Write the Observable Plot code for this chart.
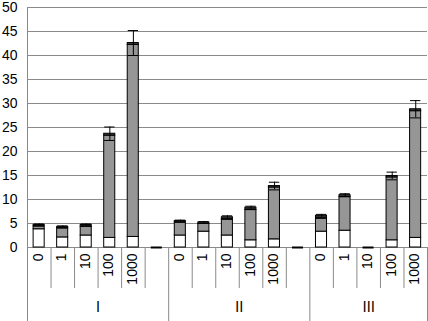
<!DOCTYPE html>
<html>
<head>
<meta charset="utf-8">
<script src="https://cdn.jsdelivr.net/npm/d3@7"></script>
<script src="https://cdn.jsdelivr.net/npm/@observablehq/plot@0.6"></script>
<style>
  html, body { margin: 0; padding: 0; background: white; }
</style>
</head>
<body>
<div id="chart"></div>
<script>
// ---- data ----
const groups = ["Ⅰ", "Ⅱ", "Ⅲ"];
const groupSizes = [6, 6, 5];
const doses = ["0","1","10","100","1000","", "0","1","10","100","1000","", "0","1","10","100","1000"];
const whiteSeg = [3.8, 2.1, 2.5, 2.0, 2.2, 0,   2.5, 3.3, 2.5, 1.5, 1.7, 0,   3.3, 3.5, 0, 1.5, 2.0];
const graySeg  = [0.6, 1.9, 1.8, 21.3, 40.0, 0, 2.7, 1.6, 3.3, 6.3, 10.8, 0,  2.7, 7.0, 0, 13.1, 26.4];
const darkSeg  = [0.3, 0.3, 0.4, 0.4, 0.4, 0,   0.3, 0.3, 0.5, 0.5, 0.3, 0,   0.6, 0.4, 0, 0.3, 0.4];
const errors   = [0.2, 0.2, 0.2, 1.4, 2.6, 0,   0.2, 0.2, 0.3, 0.3, 0.8, 0,   0.3, 0.3, 0, 0.8, 1.8];
const yTicks = [0, 5, 10, 15, 20, 25, 30, 35, 40, 45, 50];

// ---- layout ----
const W = 428, H = 321;
const mL = 27, mR = 1, mT = 7, mB = 74;
const plotH = H - mT - mB;
const nSlots = doses.length;
const barL = 0.26, barR = 0.73, capHalf = 0.22;
const segColors = ["white", "#969696", "#3a3a3a"];
const lineColor = "#8a8a8a";

// ---- tables ----
const slots = doses.map((d, i) => ({i, dose: d, total: whiteSeg[i] + graySeg[i] + darkSeg[i], err: errors[i]}));
const rects = [];
slots.forEach(s => {
  const segs = [whiteSeg[s.i], graySeg[s.i], darkSeg[s.i]];
  let base = 0;
  segs.forEach((v, k) => {
    if (v > 0) rects.push({x1: s.i + barL, x2: s.i + barR, y1: base, y2: base + v, fill: segColors[k]});
    base += v;
  });
});
const zeroSlots = slots.filter(s => s.total === 0);
const errSlots = slots.filter(s => s.total > 0 && s.err > 0);

const groupBounds = [0];
groupSizes.forEach(n => groupBounds.push(groupBounds[groupBounds.length - 1] + n));
const innerBounds = d3.range(1, nSlots).filter(b => !groupBounds.includes(b));
const groupCenters = groups.map((g, k) => ({g, x: (groupBounds[k] + groupBounds[k + 1]) / 2}));

const chart = Plot.plot({
  width: W, height: H,
  marginLeft: mL, marginRight: mR, marginTop: mT, marginBottom: mB,
  style: {fontFamily: "'Liberation Sans', Arial, sans-serif", fontSize: "14px", background: "white", color: "black"},
  x: {domain: [0, nSlots], axis: null},
  y: {domain: [0, 50], axis: null},
  marks: [
    Plot.ruleY(yTicks, {stroke: lineColor, strokeWidth: 1}),
    Plot.rect(rects, {x1: "x1", x2: "x2", y1: "y1", y2: "y2", fill: "fill", stroke: "black", strokeWidth: 1}),
    Plot.ruleY(zeroSlots, {y: 0, x1: d => d.i + barL, x2: d => d.i + barR, stroke: "black", strokeWidth: 2}),
    Plot.ruleX(errSlots, {x: d => d.i + 0.5, y1: d => d.total - d.err, y2: d => d.total + d.err, stroke: "black"}),
    Plot.ruleY(errSlots, {y: d => d.total + d.err, x1: d => d.i + 0.5 - capHalf, x2: d => d.i + 0.5 + capHalf, stroke: "black"}),
    Plot.ruleY(errSlots, {y: d => d.total - d.err, x1: d => d.i + 0.5 - capHalf, x2: d => d.i + 0.5 + capHalf, stroke: "black"}),
    // left axis (full height, extends to bottom)
    Plot.ruleX([0], {x: d => d, insetBottom: -mB, stroke: lineColor}),
    // group separators below axis
    Plot.ruleX(groupBounds.slice(1), {x: d => d, insetTop: plotH, insetBottom: -mB, stroke: lineColor}),
    // category separators below axis
    Plot.ruleX(innerBounds, {x: d => d, insetTop: plotH, insetBottom: -41, stroke: lineColor}),
    Plot.axisY({ticks: yTicks, tickSize: 0, tickPadding: 10, label: null, fill: "black"}),
    Plot.text(slots.filter(s => s.dose !== ""), {x: d => d.i + 0.5, y: 0, text: "dose", rotate: -90, textAnchor: "end", lineAnchor: "middle", dy: 6, dx: -1, fill: "black"}),
    Plot.text(groupCenters, {x: "x", y: 0, text: "g", dy: 60, fill: "black", fontFamily: "'Noto Sans CJK JP', sans-serif", fontSize: 14})
  ]
});
document.getElementById("chart").appendChild(chart);
</script>
</body>
</html>
